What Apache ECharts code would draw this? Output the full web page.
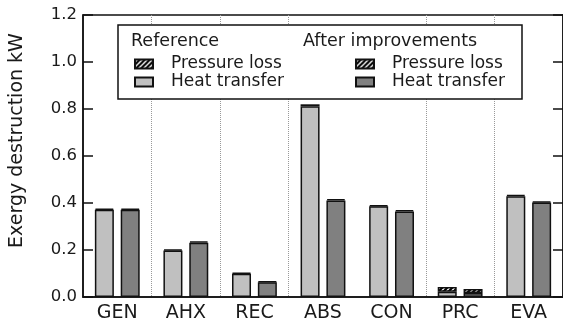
<!DOCTYPE html>
<html>
<head>
<meta charset="utf-8">
<script src="https://cdn.jsdelivr.net/npm/echarts@6/dist/echarts.min.js"></script>
<style>html,body{margin:0;padding:0;background:#fff;}#chart{width:563px;height:327px;}</style>
</head>
<body>
<div id="chart"></div>
<script>
const categories = ['GEN', 'AHX', 'REC', 'ABS', 'CON', 'PRC', 'EVA'];
const refHeat = [0.371, 0.198, 0.099, 0.812, 0.386, 0.022, 0.429];
const refPressure = [0.005, 0.005, 0.004, 0.008, 0.005, 0.021, 0.005];
const impHeat = [0.371, 0.231, 0.063, 0.411, 0.364, 0.017, 0.402];
const impPressure = [0.005, 0.006, 0.004, 0.006, 0.006, 0.017, 0.005];
const yMin = 0, yMax = 1.2, yStep = 0.2;

function hatch() {
  const c = document.createElement('canvas');
  c.width = 5; c.height = 5;
  const g = c.getContext('2d');
  g.fillStyle = '#fff'; g.fillRect(0, 0, 5, 5);
  g.strokeStyle = '#000'; g.lineWidth = 2.2;
  g.beginPath();
  g.moveTo(-1, 6); g.lineTo(6, -1);
  g.moveTo(-1, 1); g.lineTo(1, -1);
  g.moveTo(4, 6); g.lineTo(6, 4);
  g.stroke();
  return c;
}
const hatchColor = { image: hatch(), repeat: 'repeat' };
const FONT = 'DejaVu Sans';
const TXT = '#1a1a1a';
const border = { borderColor: '#111', borderWidth: 1.5 };

const chart = echarts.init(document.getElementById('chart'), null, { renderer: 'canvas' });
const barW = 19;
chart.setOption({
  animation: false,
  backgroundColor: '#fff',
  textStyle: { fontFamily: FONT, color: TXT },
  grid: { left: 79, right: 0, top: 15, bottom: 30, show: true, borderColor: '#111', borderWidth: 1.5, backgroundColor: 'transparent' },
  xAxis: {
    type: 'category',
    data: categories,
    axisLine: { lineStyle: { color: '#111', width: 1.5 } },
    axisTick: { show: false },
    axisLabel: { fontFamily: FONT, fontSize: 19, color: TXT, margin: 7 },
    splitLine: { show: true, interval: function (i) { return i !== 0 && i !== 4; }, lineStyle: { color: '#999', type: 'dotted', width: 1 } }
  },
  yAxis: [{
    type: 'value', min: yMin, max: yMax, interval: yStep,
    name: 'Exergy destruction kW', nameLocation: 'middle', nameGap: 56,
    nameTextStyle: { fontFamily: FONT, fontSize: 19, color: TXT, padding: [0, 0, 0, 31] },
    axisLine: { show: true, lineStyle: { color: '#111', width: 1.5 } },
    axisTick: { show: true, inside: true, length: 10, lineStyle: { color: '#111', width: 1.5 } },
    axisLabel: { fontFamily: FONT, fontSize: 16.5, color: TXT, margin: 6, formatter: v => v.toFixed(1) },
    splitLine: { show: false }
  }, {
    type: 'value', min: yMin, max: yMax, interval: yStep, position: 'right',
    axisLine: { show: true, lineStyle: { color: '#111', width: 1.5 } },
    axisTick: { show: true, inside: true, length: 10, lineStyle: { color: '#111', width: 1.5 } },
    axisLabel: { show: false },
    splitLine: { show: false }
  }],
  legend: [{
    data: ['Ref Pressure loss', 'Ref Heat transfer'],
    orient: 'vertical', left: 134, top: 55, padding: 0, itemGap: 0,
    itemWidth: 18, itemHeight: 9, selectedMode: false, z: 20, icon: 'rect',
    formatter: n => n.replace(/^Ref /, ''),
    textStyle: { fontFamily: FONT, fontSize: 17, color: TXT, lineHeight: 18, padding: [0, 0, 0, 13] }
  }, {
    data: ['Imp Pressure loss', 'Imp Heat transfer'],
    orient: 'vertical', left: 355, top: 55, padding: 0, itemGap: 0,
    itemWidth: 18, itemHeight: 9, selectedMode: false, z: 20, icon: 'rect',
    formatter: n => n.replace(/^Imp /, ''),
    textStyle: { fontFamily: FONT, fontSize: 17, color: TXT, lineHeight: 18, padding: [0, 0, 0, 13] }
  }],
  graphic: [
    { type: 'rect', z: 10, shape: { x: 118, y: 25, width: 404, height: 74 }, style: { fill: '#fff', stroke: '#111', lineWidth: 1.5 } },
    { type: 'text', z: 20, x: 131, y: 41, style: { text: 'Reference', font: '17.5px "DejaVu Sans"', fill: TXT, verticalAlign: 'middle' } },
    { type: 'text', z: 20, x: 303, y: 41, style: { text: 'After improvements', font: '17.5px "DejaVu Sans"', fill: TXT, verticalAlign: 'middle' } }
  ],
  series: [
    { name: 'Ref Heat transfer', type: 'bar', stack: 'ref', data: refHeat, barWidth: barW, barGap: '36%', itemStyle: Object.assign({ color: '#c0c0c0' }, border) },
    { name: 'Ref Pressure loss', type: 'bar', stack: 'ref', data: refPressure, barWidth: barW, itemStyle: Object.assign({ color: hatchColor }, border) },
    { name: 'Imp Heat transfer', type: 'bar', stack: 'imp', data: impHeat, barWidth: barW, barGap: '36%', itemStyle: Object.assign({ color: '#808080' }, border) },
    { name: 'Imp Pressure loss', type: 'bar', stack: 'imp', data: impPressure, barWidth: barW, itemStyle: Object.assign({ color: hatchColor }, border) }
  ]
});
</script>
</body>
</html>
